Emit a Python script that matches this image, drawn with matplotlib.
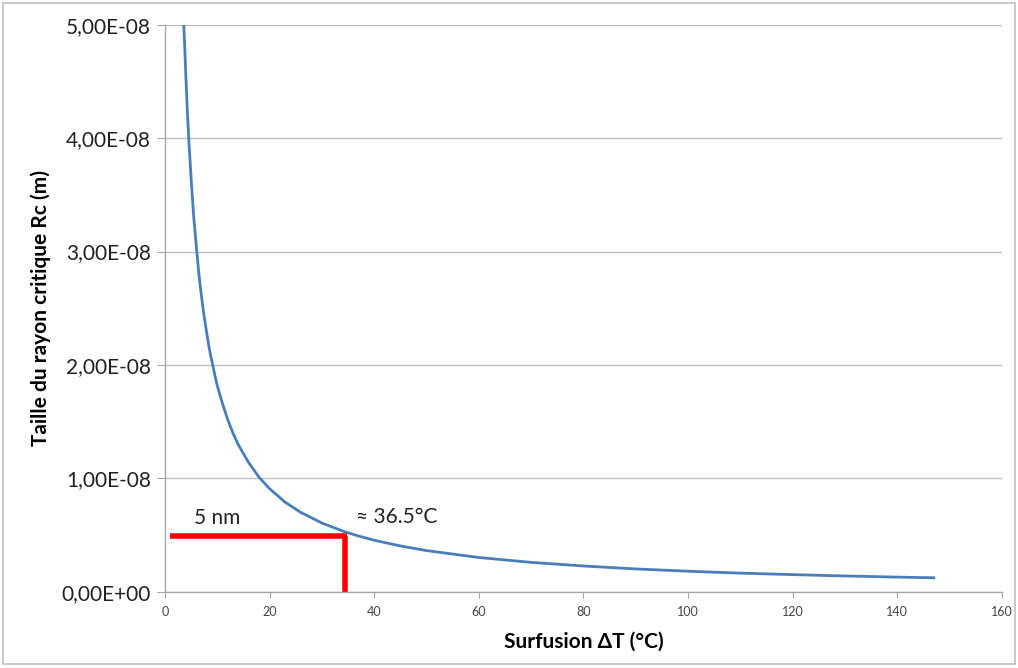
import matplotlib
matplotlib.use("Agg")
import matplotlib.pyplot as plt
from matplotlib.ticker import FuncFormatter
from matplotlib.patches import Rectangle

plt.rcParams['font.family'] = ['Lato', 'DejaVu Sans']

# values
dT = [3.6, 3.8, 4, 4.3, 4.6, 5, 5.5, 6, 6.5, 7, 7.5, 8, 8.5, 9, 9.5, 10, 11,
      12, 13, 14, 16, 18, 20, 23, 26, 30, 34, 36.5, 40, 45, 50, 60, 70, 80,
      90, 100, 110, 120, 130, 140, 147]
Rc = [5.0e-8, 4.79e-8, 4.55e-8, 4.23e-8, 3.96e-8, 3.65e-8, 3.31e-8, 3.05e-8,
      2.8e-8, 2.6e-8, 2.43e-8, 2.28e-8, 2.14e-8, 2.03e-8, 1.92e-8, 1.82e-8,
      1.66e-8, 1.52e-8, 1.4e-8, 1.3e-8, 1.14e-8, 1.01e-8, 9.1e-9, 7.9e-9,
      7.0e-9, 6.07e-9, 5.36e-9, 4.99e-9, 4.55e-9, 4.05e-9, 3.64e-9, 3.03e-9,
      2.6e-9, 2.28e-9, 2.02e-9, 1.82e-9, 1.65e-9, 1.52e-9, 1.4e-9, 1.3e-9,
      1.24e-9]

# red marker lines (5 nm -> ~34.5 degC)
h_x = [1, 34.8]
h_y = [4.9e-9, 4.9e-9]
v_x = [34.5, 34.5]
v_y = [0, 4.9e-9]

fig = plt.figure(figsize=(10.18, 6.68), dpi=100)
fig.patches.append(Rectangle((0.003, 0.006), 0.994, 0.99, transform=fig.transFigure,
                             fill=False, edgecolor='#bfbfbf', linewidth=1.2))
ax = fig.add_axes([0.162, 0.114, 0.822, 0.849])

ax.plot(dT, Rc, color='#4a7ebb', linewidth=2)
ax.plot(h_x, h_y, color='#ff0000', linewidth=4, solid_capstyle='butt')
ax.plot(v_x, v_y, color='#ff0000', linewidth=4, solid_capstyle='butt')

ax.text(5.5, 6.5e-9, '5 nm', fontsize=15, va='center', ha='left', color='#222222')
ax.text(36.5, 6.6e-9, '≈ 36.5°C', fontsize=15, va='center', ha='left', color='#222222')

ax.set_xlim(0, 160)
ax.set_ylim(0, 5e-8)
ax.set_xticks(range(0, 161, 20))
ax.set_yticks([0, 1e-8, 2e-8, 3e-8, 4e-8, 5e-8])

def sci_fr(v, pos):
    s = '%.2E' % v
    return s.replace('.', ',')

ax.yaxis.set_major_formatter(FuncFormatter(sci_fr))
ax.grid(axis='y', color='#bfbfbf', linewidth=1)
ax.set_axisbelow(True)
for s in ['top', 'right']:
    ax.spines[s].set_visible(False)
for s in ['left', 'bottom']:
    ax.spines[s].set_color('#a6a6a6')
    ax.spines[s].set_linewidth(1)
ax.tick_params(axis='x', colors='#a6a6a6', labelcolor='#444444', labelsize=9, length=4, pad=6)
ax.tick_params(axis='y', colors='#a6a6a6', labelcolor='#222222', labelsize=15, length=6, pad=4)

ax.set_xlabel('Surfusion ΔT (°C)', fontsize=15, fontweight='bold', labelpad=10)
ax.set_ylabel('Taille du rayon critique Rc (m)', fontsize=15, fontweight='bold', labelpad=8)

fig.savefig('out.png', dpi=100)
